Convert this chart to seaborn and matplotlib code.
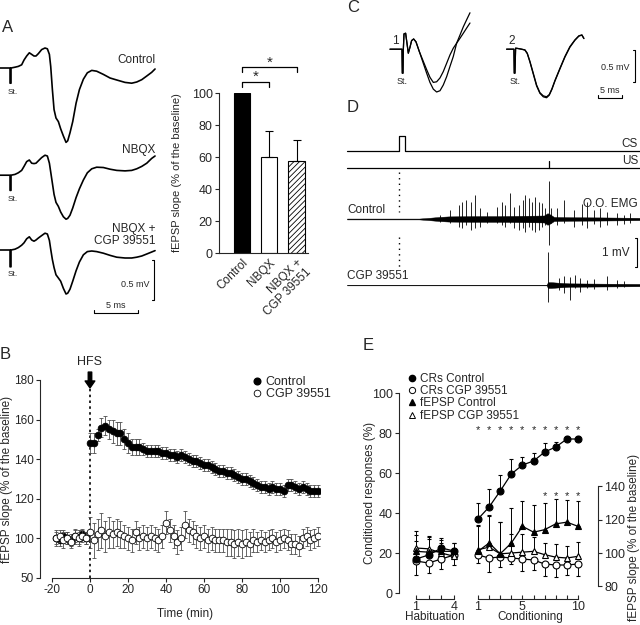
import matplotlib
matplotlib.use("Agg")
import matplotlib.pyplot as plt
from matplotlib.lines import Line2D
import seaborn as sns

# ---------------- Panel A: fEPSP traces (time in ms, voltage in mV) ----------------
a_time = [0, 1.14, 1.14, 1.25, 1.25, 1.70, 2.08, 2.46, 2.73, 3.03,
          3.33, 3.60, 3.86, 4.09, 4.36, 4.73, 5.11, 5.38, 5.61, 5.76,
          5.95, 6.14, 6.36, 6.63, 6.89, 7.20, 7.50, 7.69, 7.95, 8.26,
          8.64, 9.02, 9.47, 9.92, 10.42, 10.98, 11.74, 12.5, 13.26, 14.2,
          14.96, 15.53, 16.1, 16.67, 17.23, 17.61]
a_control = [0, 0, -0.19, -0.19, 0, 0.01, 0.02, 0.04, 0.10, 0.15,
             0.19, 0.17, 0.15, 0.15, 0.18, 0.23, 0.25, 0.24, 0.17, 0.02,
             -0.27, -0.52, -0.625, -0.67, -0.76, -0.85, -0.93, -0.91, -0.81, -0.67,
             -0.44, -0.27, -0.14, -0.06, -0.03, -0.04, -0.08, -0.125, -0.15, -0.18,
             -0.19, -0.175, -0.146, -0.10, -0.054, -0.0125]
a_nbqx = [0, 0, -0.19, -0.19, 0, 0.01, 0.03, 0.06, 0.11, 0.17,
          0.19, 0.15, 0.145, 0.15, 0.18, 0.22, 0.25, 0.24, 0.15, 0.04,
          -0.10, -0.24, -0.34, -0.39, -0.46, -0.52, -0.55, -0.54, -0.50, -0.41,
          -0.28, -0.17, -0.06, 0.03, 0.08, 0.10, 0.096, 0.075, 0.06, 0.054,
          0.06, 0.08, 0.11, 0.15, 0.21, 0.24]
a_nbqx_cgp = [0, 0, -0.21, -0.21, 0, 0.01, 0.03, 0.06, 0.09, 0.14,
              0.165, 0.125, 0.11, 0.125, 0.15, 0.18, 0.21, 0.20, 0.12, 0.01,
              -0.12, -0.22, -0.31, -0.35, -0.39, -0.48, -0.55, -0.54, -0.49, -0.39,
              -0.26, -0.15, -0.06, -0.02, -0.0125, -0.02, -0.04, -0.067, -0.09, -0.10,
              -0.10, -0.09, -0.075, -0.05, -0.025, -0.008]
a_offsets = [0, -1.34, -2.275]
a_names = ["Control", "NBQX", "NBQX +\nCGP 39551"]

# Panel A bar chart
bar_labels = ["Control", "NBQX", "NBQX +\nCGP 39551"]
bar_values = [100, 60, 57.5]
bar_errors = [0, 16, 13]

# ---------------- Panel B: LTP time course ----------------
b_time_base = [-18, -16, -14, -12, -10, -8, -6, -4, -2]
b_ctrl_base = [100, 99, 101, 100, 99, 101, 100, 102, 100]
b_ctrl_base_err = [3, 3, 3, 3, 3, 3, 3, 3, 3]
b_cgp_base = [100, 101, 99, 100, 98, 101, 100, 101, 100]
b_cgp_base_err = [4, 3, 4, 3, 3, 4, 4, 3, 3]

b_time_post = list(range(0, 121, 2))
b_ctrl_post = [148, 148, 152, 156, 157, 155, 154, 153, 153, 150,
               148, 146, 146, 146, 145, 144, 144, 144, 144, 143,
               143, 142, 142, 141, 142, 141, 140, 139, 139, 138,
               137, 137, 136, 135, 134, 134, 133, 133, 132, 131,
               130, 130, 129, 128, 127, 126, 126, 125, 126, 125,
               125, 124, 127, 127, 126, 125, 126, 125, 124, 124,
               124]
b_ctrl_post_err = [5, 5, 3, 5, 5, 5, 6, 6, 6, 5,
                   5, 4, 4, 4, 3, 3, 3, 3, 3, 3,
                   3, 3, 3, 3, 3, 3, 3, 3, 3, 3,
                   3, 3, 3, 3, 3, 3, 3, 3, 3, 3,
                   3, 3, 3, 3, 3, 3, 3, 3, 3, 3,
                   3, 3, 3, 3, 3, 3, 3, 3, 3, 3,
                   3]
b_cgp_post = [103, 99, 102, 104, 101, 103, 102, 103, 102, 101,
              100, 99, 103, 100, 101, 100, 101, 100, 99, 101,
              108, 104, 101, 98, 100, 107, 104, 103, 101, 100,
              101, 99, 100, 99, 99, 99, 98, 98, 97, 98,
              97, 98, 97, 99, 98, 99, 98, 99, 100, 98,
              99, 100, 99, 97, 97, 96, 100, 101, 99, 100,
              101]
b_cgp_post_err = [8, 9, 8, 9, 8, 8, 7, 7, 7, 6,
                  6, 6, 6, 6, 6, 6, 6, 6, 6, 6,
                  6, 6, 6, 6, 6, 7, 6, 6, 6, 6,
                  6, 6, 6, 6, 6, 6, 7, 7, 7, 7,
                  7, 7, 6, 6, 5, 5, 5, 5, 5, 5,
                  5, 5, 5, 5, 5, 5, 5, 5, 5, 5,
                  5]
b_yticks = [80, 100, 120, 140, 160, 180]
b_yticklabels = ["50", "100", "120", "140", "160", "180"]

# ---------------- Panel C: traces before (1) / after (2) ----------------
c1_time = [0, 2.5, 2.57, 2.71, 2.78, 2.92, 3.26, 3.54, 3.82, 4.17,
           4.51, 4.93, 5.42, 6.11, 6.94, 7.64, 8.33, 9.03, 9.72, 10.42,
           11.11, 11.81, 12.5, 13.19, 13.89, 14.58, 15.28, 15.97, 16.67]
c1_trace_a = [0, 0, -0.375, -0.375, -0.01, 0.24, 0.25, 0.094, -0.0625, 0.031,
              0.135, 0.16, 0.115, -0.036, -0.19, -0.32, -0.44, -0.52, -0.51, -0.45,
              -0.35, -0.22, -0.09, 0.016, 0.094, 0.17, 0.25, 0.33, 0.41]
c1_trace_b = [0, 0, -0.375, -0.375, -0.01, 0.24, 0.25, 0.094, -0.0625, 0.031,
              0.135, 0.16, 0.115, -0.036, -0.22, -0.375, -0.52, -0.625, -0.67, -0.65,
              -0.56, -0.43, -0.27, -0.115, 0.094, 0.22, 0.35, 0.46, 0.57]
c2_time = [0, 1.53, 1.60, 1.74, 1.88, 2.43, 3.13, 3.82, 4.31, 4.86,
           5.56, 6.25, 6.94, 7.64, 8.33, 8.89, 9.44, 10.07, 11.11, 12.15,
           13.19, 14.24, 15.07, 15.69, 16.11]
c2_trace_a = [0, 0, -0.375, -0.375, 0.016, 0.01, 0, -0.01, -0.0625, -0.19,
              -0.375, -0.56, -0.68, -0.73, -0.745, -0.71, -0.62, -0.49, -0.30, -0.115,
              0.04, 0.146, 0.21, 0.224, 0.17]
c2_trace_b = [0, 0, -0.375, -0.375, 0.016, 0.01, 0, -0.015, -0.07, -0.2,
              -0.39, -0.575, -0.69, -0.745, -0.76, -0.72, -0.63, -0.5, -0.31, -0.125,
              0.03, 0.14, 0.205, 0.22, 0.165]
c2_shift = 24.3

# ---------------- Panel D: CS / US / O.O. EMG ----------------
d_start, d_end = -104, 482
d_cs_on, d_cs_off = 0, 12
d_us_time = 300
d_ctrl_env_t = [-104, 40, 60, 80, 100, 150, 200, 250, 290, 297, 303, 310, 350, 400, 482]
d_ctrl_env = [0.015, 0.015, 0.04, 0.07, 0.09, 0.10, 0.10, 0.11, 0.12, 0.20, 0.15, 0.07, 0.06, 0.055, 0.04]
d_ctrl_spike_t = [82, 102, 119, 125, 134, 143, 152, 162, 175, 195,
                  205, 212, 222, 229, 239, 247, 252, 259, 265, 272,
                  279, 285, 292, 299, 303, 315, 330, 349, 365, 375,
                  389, 402, 415, 435, 449, 462]
d_ctrl_spike_up = [0.14, 0.31, 0.48, 0.60, 0.66, 0.60, 0.83, 0.37, 0.25, 0.43,
                   0.60, 0.48, 0.89, 0.43, 0.48, 0.66, 0.83, 0.71, 0.60, 0.77,
                   0.60, 0.54, 0.37, 1.30, 0.39, 0.37, 0.66, 0.31, 0.51, 0.60,
                   0.31, 0.37, 0.25, 0.20, 0.14, 0.20]
d_ctrl_spike_down = [0.09, 0.15, 0.26, 0.32, 0.21, 0.38, 0.32, 0.26, 0.15, 0.15,
                     0.21, 0.26, 0.15, 0.32, 0.38, 0.32, 0.44, 0.26, 0.38, 0.44,
                     0.38, 0.26, 0.21, 0.90, 0.15, 0.21, 0.15, 0.26, 0.21, 0.32,
                     0.18, 0.26, 0.21, 0.21, 0.18, 0.15]
d_cgp_env_t = [-104, 295, 298, 305, 320, 340, 400, 482]
d_cgp_env = [0.01, 0.01, 0.10, 0.10, 0.08, 0.06, 0.05, 0.04]
d_cgp_spike_t = [297, 319, 330, 342, 352, 362, 375, 389, 415, 435, 449]
d_cgp_spike_up = [1.14, 0.23, 0.31, 0.29, 0.34, 0.26, 0.17, 0.20, 0.31, 0.17, 0.14]
d_cgp_spike_down = [0.59, 0.17, 0.29, 0.50, 0.11, 0.23, 0.11, 0.15, 0.17, 0.11, 0.08]

# ---------------- Panel E: CRs and fEPSP across sessions ----------------
e_hab = [1, 2, 3, 4]
e_cond = [1, 2, 3, 4, 5, 6, 7, 8, 9, 10]
cr_ctrl_hab = [17, 19, 22.5, 21]
cr_ctrl_hab_err = [9, 8, 5, 4]
cr_cgp_hab = [16, 15, 17, 19]
cr_cgp_hab_err = [7, 5, 5, 5]
fe_ctrl_hab = [101, 100.5, 101, 101]
fe_ctrl_hab_err = [12, 10, 7, 5]
fe_cgp_hab = [103, 102.5, 100, 98]
fe_cgp_hab_err = [8, 7, 6, 5]

cr_ctrl_cond = [37, 43, 51, 59.5, 64, 66, 70.5, 73, 77, 77]
cr_ctrl_cond_err = [8, 9, 8, 7.5, 4, 4, 4.5, 2.5, 1.5, 1.7]
cr_cgp_cond = [19, 17.5, 18, 17.5, 17, 16.5, 14.5, 14, 14, 14.5]
cr_cgp_cond_err = [4, 7, 5, 3, 6, 5, 6, 6, 5, 6]
fe_ctrl_cond = [101, 106, 99.5, 106, 116, 112.5, 114, 117.5, 118.5, 116]
fe_ctrl_cond_err = [16, 17, 19, 21, 15, 16, 16, 15, 13, 15]
fe_cgp_cond = [102, 103.5, 99.5, 100, 100.5, 101, 99, 97.5, 97, 98]
fe_cgp_cond_err = [14, 19, 19, 11.5, 11, 8.5, 7, 8, 7, 8.5]
cr_star_sessions = [1, 2, 3, 4, 5, 6, 7, 8, 9, 10]
fe_star_sessions = [7, 8, 9, 10]

# ---------------- figure ----------------
sns.set_style("ticks")
plt.rcParams["font.family"] = ["Liberation Sans", "DejaVu Sans"]
plt.rcParams["hatch.linewidth"] = 0.6

W, H = 640, 625
fig = plt.figure(figsize=(6.4, 6.25), dpi=100)


def px_axes(x0, y0, x1, y1):
    return fig.add_axes([x0 / W, 1 - y1 / H, (x1 - x0) / W, (y1 - y0) / H])


def ftext(x, y, s, **kw):
    fig.text(x / W, 1 - y / H, s, **kw)


def style_ticks(ax, size=9):
    ax.tick_params(labelsize=size, length=3, width=0.8, pad=1.5, direction="out")
    for sp in ax.spines.values():
        sp.set_linewidth(0.8)


# panel letters
for lab, x, y in [("A", 2, 28), ("B", 0, 355), ("C", 347, 8), ("D", 347, 107), ("E", 363, 345)]:
    ftext(x, y, lab, fontsize=12, va="center", ha="left")

# ---- A traces ----
ax_a = px_axes(0, 40, 162, 320)
ax_a.set_xlim(0, 18.4)
ax_a.set_ylim(-3.15, 0.35)
ax_a.axis("off")
for tr, off in zip([a_control, a_nbqx, a_nbqx_cgp], a_offsets):
    sns.lineplot(x=a_time, y=[v + off for v in tr], ax=ax_a, color="k", lw=1.2,
                 sort=False, estimator=None)
    ax_a.text(0.9, off - 0.3, "St.", fontsize=6, ha="left", va="center")
ftext(155, 60, a_names[0], fontsize=8.5, ha="right", va="center")
ftext(155, 150, a_names[1], fontsize=8.5, ha="right", va="center")
ftext(155, 235, a_names[2], fontsize=8.5, ha="right", va="center", linespacing=1.1)
# scale bars
ax_a.plot([17.3, 17.5, 17.5, 17.3], [-2.4, -2.4, -2.9, -2.9], color="k", lw=0.8)
ax_a.text(17.0, -2.71, "0.5 mV", fontsize=6.5, ha="right", va="center")
ax_a.plot([10.7, 10.7, 15.7, 15.7], [-3.03, -3.06, -3.06, -3.03], color="k", lw=0.8)
ax_a.text(13.2, -3.02, "5 ms", fontsize=6.5, ha="center", va="bottom")

# ---- A bars ----
ax_bar = px_axes(219, 93, 308, 253)
sns.barplot(x=bar_labels, y=bar_values, hue=bar_labels, palette=["black", "white", "white"],
            edgecolor="black", linewidth=0.8, width=0.6, legend=False, ax=ax_bar)
ax_bar.patches[2].set_hatch("//////")
for i, (v, e) in enumerate(zip(bar_values, bar_errors)):
    if e > 0:
        ax_bar.errorbar(i, v, yerr=[[0], [e]], fmt="none", ecolor="k", elinewidth=0.8,
                        capsize=3, capthick=0.8)
ax_bar.set_xlim(-0.84, 2.42)
ax_bar.set_ylim(0, 100)
ax_bar.set_yticks([0, 20, 40, 60, 80, 100])
sns.despine(ax=ax_bar)
style_ticks(ax_bar)
ax_bar.tick_params(axis="x", length=0, pad=3)
ax_bar.set_xticks([0, 1, 2])
ax_bar.set_xticklabels(bar_labels, rotation=45, ha="right", rotation_mode="anchor",
                       fontsize=8.5, linespacing=1.0)
ax_bar.set_xlabel("")
ax_bar.set_ylabel("fEPSP slope (% of the baseline)", fontsize=8)
ax_bar.yaxis.set_label_coords(-0.42, 0.5)
ax_bar.plot([0, 0, 1, 1], [104, 107, 107, 104], color="k", lw=0.9, clip_on=False)
ax_bar.plot([0, 0, 2, 2], [113, 116, 116, 113], color="k", lw=0.9, clip_on=False)
ax_bar.text(0.5, 105.5, "*", fontsize=11, ha="center", va="bottom")
ax_bar.text(1.0, 114.5, "*", fontsize=11, ha="center", va="bottom")

# ---- B ----
ax_b = px_axes(40, 380, 320, 578)
ax_b.set_xlim(-26.3, 121.05)
ax_b.set_ylim(80, 180)
ekw = dict(fmt="o", ms=4.8, mec="k", mew=0.6, ecolor="0.3", elinewidth=0.6,
           capsize=1.5, capthick=0.6)
ax_b.errorbar(b_time_base + b_time_post, b_ctrl_base + b_ctrl_post,
              yerr=b_ctrl_base_err + b_ctrl_post_err, mfc="k", zorder=3, **ekw)
ax_b.errorbar(b_time_base + b_time_post, b_cgp_base + b_cgp_post,
              yerr=b_cgp_base_err + b_cgp_post_err, mfc="white", zorder=4, **ekw)
ax_b.plot([0, 0], [80, 176], color="k", ls=(0, (1.5, 2)), lw=1.2, zorder=2)
ax_b.annotate("", xy=(0, 176), xytext=(0, 184),
              arrowprops=dict(facecolor="k", edgecolor="k", width=2.5, headwidth=7,
                              headlength=5), annotation_clip=False)
ftext(90, 362, "HFS", fontsize=9, ha="center", va="center")
ax_b.set_yticks(b_yticks)
ax_b.set_yticklabels(b_yticklabels)
ax_b.set_xticks([-20, 0, 20, 40, 60, 80, 100, 120])
ax_b.set_xticklabels(["-20", "0", "20", "40", "60", "80", "100", "120"])
sns.despine(ax=ax_b)
ax_b.spines["bottom"].set_bounds(-20, 120)
ax_b.spines["left"].set_bounds(80, 180)
style_ticks(ax_b, 8.5)
ax_b.set_xlabel("Time (min)", fontsize=8.5)
ax_b.xaxis.set_label_coords(0.518, -0.15)
ax_b.set_ylabel("fEPSP slope (% of the baseline)", fontsize=8.5)
ax_b.yaxis.set_label_coords(-0.097, 0.5)
b_handles = [Line2D([], [], ls="none", marker="o", ms=4.8, mfc="k", mec="k"),
             Line2D([], [], ls="none", marker="o", ms=4.8, mfc="white", mec="k", mew=0.6)]
ax_b.legend(b_handles, ["Control", "CGP 39551"], loc="upper left",
            bbox_to_anchor=(253 / W, 1 - 376 / H), bbox_transform=fig.transFigure,
            frameon=False, fontsize=9, handlelength=0.7, handletextpad=0.3,
            labelspacing=0.0, borderaxespad=0, borderpad=0)

# ---- C ----
ax_c = px_axes(380, 0, 640, 115)
ax_c.set_xlim(-2.08, 52.1)
ax_c.set_ylim(-1.03, 0.77)
ax_c.axis("off")
for tr in (c1_trace_a, c1_trace_b):
    sns.lineplot(x=c1_time, y=tr, ax=ax_c, color="k", lw=0.9, sort=False, estimator=None)
for tr in (c2_trace_a, c2_trace_b):
    sns.lineplot(x=[t + c2_shift for t in c2_time], y=tr, ax=ax_c, color="k", lw=0.9,
                 sort=False, estimator=None)
ax_c.text(0.4, 0.03, "1", fontsize=8.5, ha="left", va="bottom")
ax_c.text(c2_shift + 0.3, 0.03, "2", fontsize=8.5, ha="left", va="bottom")
ax_c.text(2.5, -0.5, "St.", fontsize=6.5, ha="center", va="center")
ax_c.text(c2_shift + 1.7, -0.5, "St.", fontsize=6.5, ha="center", va="center")
ax_c.plot([50.6, 51.0, 51.0, 50.6], [-0.01, -0.01, -0.51, -0.51], color="k", lw=0.8)
ax_c.text(50.0, -0.29, "0.5 mV", fontsize=6.5, ha="right", va="center")
ax_c.plot([43.3, 43.3, 48.3, 48.3], [-0.71, -0.76, -0.76, -0.71], color="k", lw=0.8)
ax_c.text(45.8, -0.71, "5 ms", fontsize=6.5, ha="center", va="bottom")

# ---- D ----
ax_d = px_axes(340, 130, 640, 310)
ax_d.set_xlim(-118, 482)
ax_d.set_ylim(-3.14, 3.07)
ax_d.axis("off")
cs_y, us_y, ctrl_y, cgp_y = 2.34, 1.76, 0.0, -2.28
ax_d.plot([d_start, d_cs_on, d_cs_on, d_cs_off, d_cs_off, d_end],
          [cs_y, cs_y, cs_y + 0.52, cs_y + 0.52, cs_y, cs_y], color="k", lw=0.9)
ax_d.plot([d_start, d_end], [us_y, us_y], color="k", lw=0.9)
ax_d.plot([d_us_time, d_us_time], [us_y, us_y + 0.24], color="k", lw=0.9)
ax_d.text(478, cs_y + 0.05, "CS", fontsize=8.5, ha="right", va="bottom")
ax_d.text(478, us_y + 0.05, "US", fontsize=8.5, ha="right", va="bottom")
ax_d.plot([d_cs_on, d_cs_on], [1.62, 0.24], color="k", ls=(0, (1, 3)), lw=1.0)
ax_d.plot([d_cs_on, d_cs_on], [-0.62, -1.66], color="k", ls=(0, (1, 3)), lw=1.0)
ax_d.fill_between(d_ctrl_env_t, [ctrl_y - a for a in d_ctrl_env],
                  [ctrl_y + a for a in d_ctrl_env], color="k", lw=0.3)
ax_d.vlines(d_ctrl_spike_t, [ctrl_y - d for d in d_ctrl_spike_down],
            [ctrl_y + u for u in d_ctrl_spike_up], color="k", lw=0.6)
ax_d.fill_between(d_cgp_env_t, [cgp_y - a for a in d_cgp_env],
                  [cgp_y + a for a in d_cgp_env], color="k", lw=0.3)
ax_d.vlines(d_cgp_spike_t, [cgp_y - d for d in d_cgp_spike_down],
            [cgp_y + u for u in d_cgp_spike_up], color="k", lw=0.6)
ax_d.text(d_start, ctrl_y + 0.12, "Control", fontsize=8.5, ha="left", va="bottom")
ax_d.text(d_start, cgp_y + 0.1, "CGP 39551", fontsize=8.5, ha="left", va="bottom")
ax_d.text(478, 0.3, "O.O. EMG", fontsize=8.5, ha="right", va="bottom")
ax_d.plot([472, 476, 476, 472], [-0.66, -0.66, -1.66, -1.66], color="k", lw=0.8)
ax_d.text(462, -1.17, "1 mV", fontsize=8.5, ha="right", va="center")

# ---- E ----
ax_h = px_axes(399, 393, 462, 593)
ax_k = px_axes(462, 393, 598, 593)
tw_h = ax_h.twinx()
tw_k = ax_k.twinx()
for ax in (ax_h, ax_k):
    ax.set_ylim(0, 100)
    sns.despine(ax=ax)
    ax.spines["bottom"].set_position(("outward", 4))
    ax.patch.set_alpha(0)
    style_ticks(ax, 9)
    ax.tick_params(axis="x", direction="in", pad=1.5)
ax_h.set_xlim(-0.34, 4.63)
ax_k.set_xlim(-0.44, 11.8)
ax_h.spines["bottom"].set_bounds(1, 4)
ax_k.spines["bottom"].set_bounds(1, 10)
ax_h.spines["left"].set_bounds(0, 100)
ax_k.spines["left"].set_visible(False)
ax_k.tick_params(axis="y", left=False, labelleft=False, right=False, labelright=False)
ax_h.tick_params(axis="y", right=False, labelright=False)
ax_h.set_yticks([0, 20, 40, 60, 80, 100])
ax_h.set_xticks(e_hab)
ax_h.set_xticklabels(["1", "", "", "4"])
ax_k.set_xticks(e_cond)
ax_k.set_xticklabels(["1", "", "", "", "5", "", "", "", "", "10"])
ax_h.set_xlabel("Habituation", fontsize=8.5)
ax_h.xaxis.set_label_coords(0.57, -0.092)
ax_k.set_xlabel("Conditioning", fontsize=8.5)
ax_k.xaxis.set_label_coords(0.5, -0.092)
ax_h.set_ylabel("Conditioned responses (%)", fontsize=8.5)
ax_h.yaxis.set_label_coords(-0.36, 0.5)

for tw in (tw_h, tw_k):
    tw.set_ylim(76, 196)
    for s in ("top", "left", "bottom"):
        tw.spines[s].set_visible(False)
tw_h.spines["right"].set_visible(False)
tw_h.set_yticks([])
tw_k.spines["right"].set_bounds(80, 140)
tw_k.set_yticks([80, 100, 120, 140])
style_ticks(tw_k, 9)
tw_k.set_ylabel("fEPSP slope (% of the baseline)", fontsize=8.5)
tw_k.yaxis.set_label_coords(1.22, 0.28)


def e_series(ax, x, y, err, up, marker, mfc):
    zeros = [0] * len(err)
    yerr = [zeros, err] if up else [err, zeros]
    ax.errorbar(x, y, yerr=yerr, fmt="-", color="k", lw=0.9, marker=marker, ms=5,
                mfc=mfc, mec="k", mew=0.8, ecolor="k", elinewidth=0.7, capsize=1.5,
                capthick=0.7, zorder=3)


for ax, tw, x, crc, crce, crg, crge, fec, fece, feg, fege in [
        (ax_h, tw_h, e_hab, cr_ctrl_hab, cr_ctrl_hab_err, cr_cgp_hab, cr_cgp_hab_err,
         fe_ctrl_hab, fe_ctrl_hab_err, fe_cgp_hab, fe_cgp_hab_err),
        (ax_k, tw_k, e_cond, cr_ctrl_cond, cr_ctrl_cond_err, cr_cgp_cond, cr_cgp_cond_err,
         fe_ctrl_cond, fe_ctrl_cond_err, fe_cgp_cond, fe_cgp_cond_err)]:
    e_series(ax, x, crg, crge, False, "o", "white")
    e_series(ax, x, crc, crce, True, "o", "k")
    e_series(tw, x, feg, fege, True, "^", "white")
    e_series(tw, x, fec, fece, True, "^", "k")

for s in cr_star_sessions:
    ax_k.text(s, 81.5, "*", fontsize=8, ha="center", va="center")
for s in fe_star_sessions:
    ax_k.text(s, 48.5, "*", fontsize=8, ha="center", va="center")

e_handles = [Line2D([], [], ls="none", marker="o", ms=4.5, mfc="k", mec="k"),
             Line2D([], [], ls="none", marker="o", ms=4.5, mfc="white", mec="k", mew=0.7),
             Line2D([], [], ls="none", marker="^", ms=4.5, mfc="k", mec="k"),
             Line2D([], [], ls="none", marker="^", ms=4.5, mfc="white", mec="k", mew=0.7)]
tw_k.legend(e_handles, ["CRs Control", "CRs CGP 39551", "fEPSP Control", "fEPSP CGP 39551"],
            loc="upper left", bbox_to_anchor=(408 / W, 1 - 373 / H),
            bbox_transform=fig.transFigure, frameon=False, fontsize=8.5,
            handlelength=0.7, handletextpad=0.3, labelspacing=0.02,
            borderaxespad=0, borderpad=0)

fig.savefig("out.png", dpi=100)
